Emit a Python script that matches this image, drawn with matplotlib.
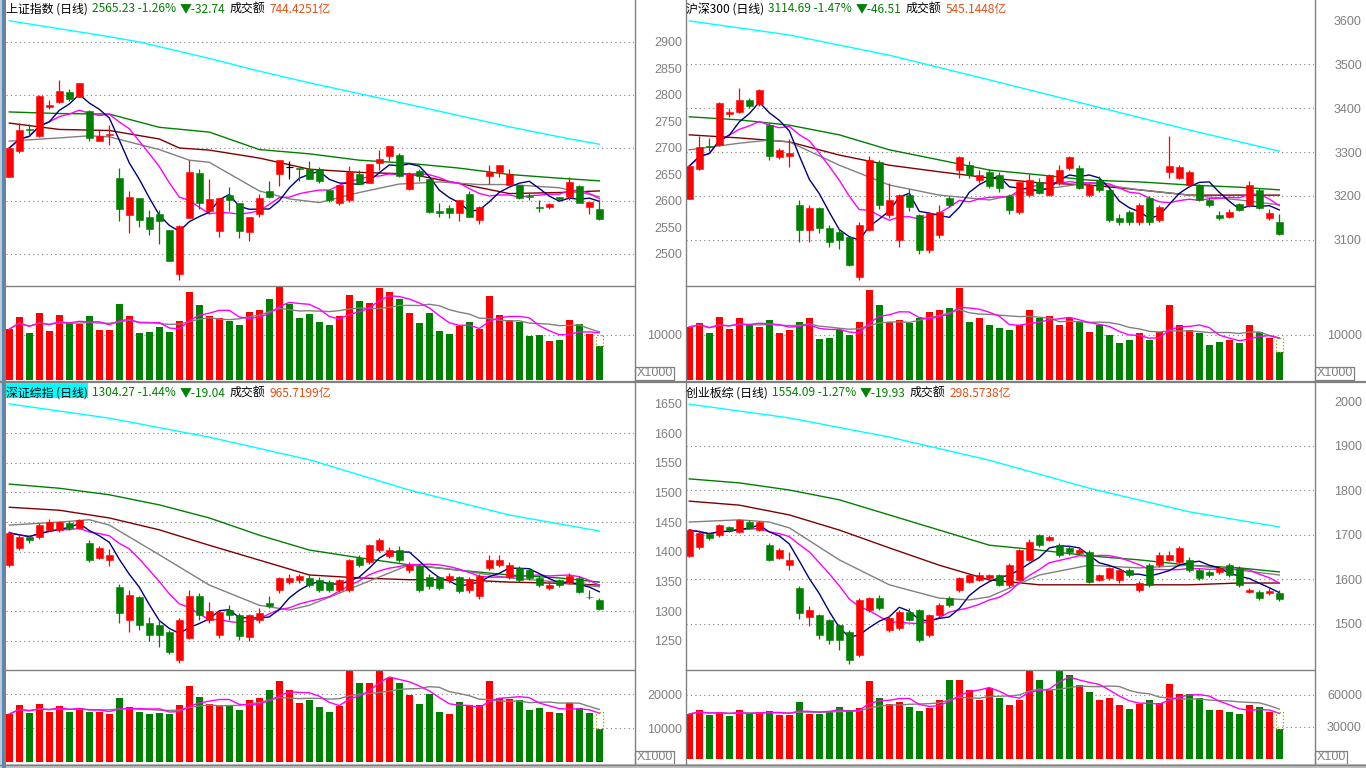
"""
Four-panel daily K-line board (上证 / 沪深300 / 深证综指 / 创业板综).
Saves out.png, 1366x768.
"""
import numpy as np
import pandas as pd
import matplotlib
matplotlib.use('Agg')
import matplotlib.pyplot as plt
from matplotlib.patches import Rectangle
from matplotlib.lines import Line2D

plt.rcParams['font.family'] = ['Noto Sans CJK SC', 'DejaVu Sans']

W, H = 1366, 768
RED = '#ff0000'
GREEN = '#008000'
GREY = '#808080'
ORANGE = '#e65014'

# ---------------- data: (open, high, low, close) per day ----------------
sh_candles = [
    (2646, 2701, 2645, 2700), (2695, 2747, 2690, 2733), (2735, 2745, 2725, 2733), (2723, 2800, 2720, 2799),
    (2777, 2791, 2773, 2782), (2786, 2829, 2784, 2808), (2806, 2812, 2788, 2793), (2797, 2823, 2796, 2823),
    (2769, 2772, 2713, 2718), (2714, 2734, 2713, 2723), (2725, 2744, 2705, 2726), (2644, 2662, 2562, 2584),
    (2574, 2618, 2539, 2608), (2606, 2606, 2550, 2564), (2569, 2583, 2536, 2548), (2575, 2583, 2518, 2563),
    (2546, 2546, 2486, 2487), (2462, 2555, 2450, 2552), (2567, 2677, 2567, 2655), (2653, 2661, 2584, 2596),
    (2582, 2642, 2575, 2604), (2543, 2605, 2533, 2605), (2612, 2627, 2582, 2601), (2596, 2597, 2531, 2543),
    (2541, 2569, 2524, 2569), (2575, 2614, 2569, 2605), (2618, 2638, 2606, 2607), (2650, 2678, 2629, 2678),
    (2665, 2675, 2641, 2665), (2662, 2662, 2637, 2660), (2660, 2676, 2641, 2641), (2661, 2664, 2633, 2637),
    (2621, 2621, 2599, 2601), (2596, 2631, 2592, 2631), (2601, 2666, 2599, 2655), (2650, 2659, 2632, 2632),
    (2633, 2669, 2633, 2669), (2671, 2697, 2658, 2680), (2684, 2704, 2675, 2704), (2686, 2691, 2645, 2647),
    (2622, 2655, 2621, 2651), (2657, 2660, 2637, 2647), (2642, 2642, 2578, 2580), (2582, 2597, 2569, 2577),
    (2587, 2592, 2567, 2577), (2577, 2602, 2563, 2602), (2614, 2618, 2569, 2569), (2565, 2591, 2556, 2589),
    (2648, 2667, 2632, 2655), (2654, 2667, 2646, 2667), (2631, 2661, 2631, 2651), (2631, 2631, 2604, 2606),
    (2609, 2616, 2601, 2607), (2589, 2601, 2579, 2587), (2588, 2597, 2584, 2595), (2608, 2608, 2601, 2603),
    (2608, 2646, 2602, 2635), (2629, 2631, 2596, 2596), (2588, 2599, 2575, 2598), (2584, 2601, 2565, 2565.23),
]
sh_vol = [11300, 14000, 10500, 14900, 10960, 14400, 12600, 12400, 14200, 11100,
          11100, 16900, 14200, 10400, 10700, 11800, 10700, 13100, 19600, 16700,
          14200, 13800, 13100, 12200, 15100, 15600, 18000, 20700, 16900, 13800,
          14700, 12900, 12200, 14200, 18900, 17600, 17100, 20400, 19600, 18000,
          14900, 12700, 14900, 10900, 10200, 12000, 12900, 11300, 18700, 14400,
          13300, 12900, 9800, 10000, 8700, 8900, 13300, 12400, 10200, 7600]
sh_est_vol = 10000
sh_ma_grey = [(0, 2713), (5, 2719), (8, 2723), (10, 2721), (15, 2697), (18, 2677), (20, 2673), (25, 2619),
              (28, 2604), (31, 2597), (35, 2616), (39, 2632), (43, 2636), (47, 2631), (50, 2631), (55, 2625), (59, 2608)]
sh_ma_darkred = [(0, 2747), (5, 2735), (10, 2733), (15, 2717), (17, 2700), (20, 2696), (25, 2681), (30, 2660),
                 (35, 2654), (40, 2651), (45, 2633), (50, 2614), (55, 2616), (59, 2619)]
sh_ma_green = [(0, 2768), (5, 2765), (10, 2764), (15, 2739), (20, 2730), (25, 2697), (30, 2689), (35, 2677),
               (40, 2671), (45, 2662), (50, 2650), (55, 2643), (59, 2638)]
sh_ma_cyan = [(0, 2940), (5, 2925), (10, 2910), (13, 2900), (20, 2869), (25, 2845), (30, 2823), (40, 2782),
              (50, 2740), (55, 2721), (59, 2707)]

hs_candles = [
    (3193, 3270, 3193, 3268), (3261, 3336, 3259, 3311), (3313, 3332, 3302, 3311), (3316, 3413, 3314, 3411),
    (3386, 3400, 3380, 3391), (3391, 3445, 3389, 3418), (3418, 3423, 3400, 3405), (3409, 3443, 3405, 3441),
    (3361, 3365, 3282, 3291), (3289, 3310, 3285, 3305), (3291, 3330, 3265, 3298), (3180, 3190, 3095, 3123),
    (3123, 3180, 3095, 3173), (3173, 3175, 3115, 3127), (3127, 3135, 3085, 3095), (3118, 3125, 3080, 3100),
    (3107, 3110, 3040, 3043), (3016, 3140, 3008, 3134), (3123, 3290, 3120, 3282), (3277, 3282, 3170, 3180),
    (3157, 3230, 3150, 3191), (3100, 3205, 3085, 3202), (3202, 3215, 3165, 3175), (3157, 3160, 3068, 3077),
    (3077, 3163, 3070, 3161), (3111, 3180, 3105, 3164), (3195, 3200, 3175, 3180), (3259, 3292, 3240, 3289),
    (3270, 3280, 3240, 3248), (3236, 3260, 3230, 3248), (3255, 3262, 3218, 3223), (3248, 3255, 3210, 3218),
    (3200, 3205, 3160, 3168), (3164, 3235, 3160, 3232), (3202, 3250, 3198, 3236), (3232, 3240, 3205, 3207),
    (3202, 3250, 3200, 3248), (3232, 3270, 3225, 3259), (3264, 3292, 3260, 3289), (3264, 3270, 3215, 3218),
    (3202, 3230, 3198, 3225), (3236, 3245, 3210, 3214), (3214, 3216, 3140, 3145), (3150, 3160, 3135, 3141),
    (3164, 3168, 3135, 3141), (3141, 3185, 3135, 3180), (3195, 3200, 3135, 3141), (3145, 3180, 3140, 3175),
    (3255, 3336, 3240, 3268), (3241, 3270, 3238, 3266), (3225, 3260, 3220, 3255), (3225, 3228, 3188, 3191),
    (3191, 3195, 3175, 3180), (3157, 3165, 3145, 3150), (3152, 3170, 3150, 3164), (3182, 3185, 3165, 3168),
    (3180, 3235, 3175, 3225), (3214, 3218, 3170, 3173), (3150, 3170, 3145, 3161), (3141, 3160, 3112, 3114.69),
]
hs_vol = [11800, 12700, 10400, 14000, 11300, 13800, 12200, 11800, 13300, 10400,
          11100, 12900, 13800, 9100, 9300, 11100, 10000, 12900, 20000, 16700,
          12900, 13300, 12700, 13800, 15100, 15600, 16000, 20400, 12900, 13800,
          12200, 11600, 11100, 12200, 15600, 13800, 14200, 12200, 13800, 12900,
          10700, 12200, 10000, 8200, 8900, 10400, 8900, 10700, 16700, 12200,
          11100, 10400, 7800, 8400, 8900, 8200, 12200, 10700, 9300, 6200]
hs_est_vol = 9300
hs_ma_grey = [(0, 3305), (5, 3320), (8, 3327), (10, 3323), (15, 3270), (20, 3225), (25, 3202), (30, 3191),
              (35, 3214), (40, 3230), (45, 3214), (50, 3202), (55, 3191), (59, 3180)]
hs_ma_darkred = [(0, 3339), (5, 3332), (10, 3323), (15, 3293), (20, 3270), (25, 3255), (30, 3241), (35, 3230),
                 (40, 3225), (45, 3214), (50, 3202), (55, 3202), (59, 3202)]
hs_ma_green = [(0, 3380), (5, 3373), (10, 3361), (15, 3339), (20, 3305), (25, 3282), (30, 3259), (35, 3248),
               (40, 3236), (45, 3232), (50, 3225), (55, 3220), (59, 3214)]
hs_ma_cyan = [(0, 3598), (10, 3566), (20, 3520), (30, 3464), (40, 3407), (50, 3350), (59, 3302)]

sz_candles = [
    (1378, 1435, 1375, 1432), (1406, 1430, 1403, 1425), (1425, 1428, 1415, 1420), (1425, 1448, 1422, 1445),
    (1437, 1455, 1435, 1450), (1437, 1452, 1433, 1450), (1448, 1452, 1437, 1440), (1440, 1455, 1438, 1453),
    (1415, 1420, 1383, 1386), (1390, 1410, 1388, 1406), (1386, 1405, 1376, 1395), (1341, 1345, 1280, 1297),
    (1285, 1335, 1265, 1327), (1324, 1326, 1268, 1277), (1280, 1290, 1250, 1260), (1277, 1285, 1240, 1260),
    (1265, 1268, 1228, 1231), (1218, 1288, 1212, 1285), (1255, 1335, 1253, 1326), (1326, 1330, 1285, 1294),
    (1285, 1315, 1280, 1300), (1260, 1300, 1255, 1299), (1302, 1310, 1285, 1294), (1294, 1297, 1252, 1258),
    (1257, 1296, 1250, 1294), (1285, 1305, 1280, 1297), (1314, 1325, 1305, 1309), (1336, 1358, 1330, 1356),
    (1349, 1362, 1345, 1356), (1352, 1362, 1348, 1359), (1356, 1362, 1340, 1344), (1352, 1358, 1332, 1336),
    (1349, 1352, 1333, 1336), (1336, 1355, 1333, 1352), (1336, 1388, 1333, 1386), (1390, 1395, 1375, 1378),
    (1383, 1413, 1380, 1411), (1403, 1423, 1400, 1420), (1393, 1408, 1390, 1403), (1403, 1410, 1383, 1386),
    (1369, 1383, 1365, 1378), (1376, 1380, 1333, 1336), (1357, 1362, 1338, 1342), (1357, 1360, 1335, 1339),
    (1352, 1365, 1348, 1359), (1357, 1360, 1330, 1334), (1336, 1357, 1330, 1354), (1325, 1362, 1320, 1359),
    (1373, 1395, 1370, 1386), (1378, 1395, 1375, 1386), (1358, 1383, 1355, 1378), (1373, 1376, 1350, 1352),
    (1369, 1372, 1352, 1356), (1356, 1360, 1340, 1344), (1339, 1348, 1336, 1344), (1352, 1355, 1340, 1344),
    (1349, 1365, 1345, 1359), (1356, 1360, 1330, 1333), (1324, 1335, 1320, 1323.31), (1319, 1322, 1302, 1304.27),
]
sz_vol = [14100, 16800, 14400, 17100, 14700, 16500, 14700, 15900, 14700, 14700,
          14100, 18800, 16200, 14700, 14100, 14400, 14100, 16800, 22400, 19100,
          17100, 16500, 16800, 15300, 18200, 18800, 21200, 23800, 21200, 17400,
          18200, 16200, 14700, 16500, 26800, 23200, 23200, 27100, 24700, 23200,
          19700, 17100, 20000, 14700, 14100, 17600, 16800, 16800, 23800, 18800,
          18500, 18200, 15300, 15900, 14700, 14400, 17400, 15900, 14400, 9700]
sz_est_vol = 14700
sz_ma_grey = [(0, 1445), (5, 1450), (8, 1454), (10, 1445), (15, 1395), (20, 1344), (25, 1310), (28, 1302),
              (30, 1310), (35, 1344), (40, 1378), (45, 1369), (50, 1356), (55, 1349), (59, 1341)]
sz_ma_darkred = [(0, 1475), (5, 1470), (10, 1457), (15, 1437), (20, 1411), (25, 1386), (30, 1361), (35, 1356),
                 (40, 1353), (45, 1353), (50, 1349), (55, 1347), (59, 1344)]
sz_ma_green = [(0, 1514), (5, 1507), (10, 1496), (15, 1479), (20, 1457), (25, 1428), (30, 1403), (35, 1390),
               (40, 1378), (45, 1369), (50, 1361), (55, 1356), (59, 1349)]
sz_ma_cyan = [(0, 1649), (10, 1625), (20, 1593), (30, 1555), (40, 1504), (50, 1462), (59, 1435)]

cy_candles = [
    (1652, 1712, 1650, 1710), (1672, 1710, 1668, 1703), (1701, 1705, 1688, 1692), (1699, 1724, 1695, 1721),
    (1717, 1720, 1705, 1710), (1706, 1735, 1703, 1733), (1728, 1732, 1712, 1715), (1710, 1730, 1708, 1728),
    (1676, 1680, 1640, 1643), (1647, 1670, 1645, 1665), (1631, 1660, 1620, 1643), (1580, 1585, 1510, 1524),
    (1515, 1540, 1495, 1530), (1519, 1522, 1465, 1474), (1508, 1510, 1455, 1463), (1497, 1500, 1440, 1463),
    (1481, 1485, 1410, 1418), (1429, 1558, 1425, 1553), (1530, 1560, 1525, 1557), (1557, 1565, 1530, 1535),
    (1485, 1520, 1480, 1512), (1490, 1530, 1485, 1526), (1526, 1535, 1505, 1508), (1530, 1532, 1458, 1463),
    (1474, 1522, 1470, 1519), (1519, 1545, 1515, 1542), (1557, 1562, 1538, 1542), (1575, 1605, 1570, 1602),
    (1593, 1612, 1590, 1609), (1598, 1615, 1595, 1609), (1602, 1612, 1598, 1609), (1609, 1612, 1585, 1587),
    (1587, 1635, 1583, 1631), (1598, 1668, 1595, 1665), (1643, 1690, 1640, 1683), (1699, 1702, 1672, 1676),
    (1688, 1698, 1685, 1694), (1676, 1680, 1650, 1654), (1670, 1675, 1655, 1661), (1658, 1670, 1655, 1665),
    (1661, 1665, 1590, 1593), (1598, 1612, 1595, 1609), (1602, 1628, 1598, 1625), (1598, 1625, 1590, 1620),
    (1620, 1625, 1605, 1609), (1575, 1595, 1570, 1591), (1631, 1635, 1583, 1587), (1631, 1660, 1628, 1654),
    (1643, 1662, 1640, 1654), (1638, 1675, 1635, 1670), (1643, 1650, 1615, 1620), (1620, 1625, 1598, 1602),
    (1616, 1620, 1605, 1609), (1616, 1628, 1612, 1625), (1631, 1635, 1605, 1609), (1625, 1630, 1583, 1587),
    (1571, 1580, 1568, 1575), (1571, 1575, 1553, 1557), (1569, 1580, 1565, 1574), (1569, 1575, 1550, 1554.09),
]
cy_vol = [42200, 45900, 41250, 44100, 40300, 45900, 42200, 44100, 45000, 41250,
          41250, 53400, 42200, 42200, 44100, 48750, 45900, 47800, 73100, 57200,
          51600, 53400, 48750, 45000, 47800, 55300, 74100, 74100, 64700, 55300,
          66600, 57200, 50600, 55300, 83400, 74100, 64700, 83400, 78750, 69400,
          62800, 55300, 57200, 50600, 46900, 51600, 55300, 52500, 70300, 60900,
          60900, 57200, 45900, 45900, 44100, 42200, 50600, 48750, 44100, 28100]
cy_est_vol = 44000
cy_ma_grey = [(0, 1728), (5, 1733), (8, 1728), (10, 1715), (15, 1643), (20, 1587), (25, 1557), (28, 1553),
              (30, 1560), (35, 1609), (40, 1631), (45, 1625), (50, 1631), (55, 1620), (59, 1609)]
cy_ma_darkred = [(0, 1775), (5, 1766), (10, 1744), (15, 1710), (20, 1670), (25, 1631), (30, 1598), (35, 1587),
                 (40, 1587), (45, 1587), (50, 1587), (55, 1591), (59, 1591)]
cy_ma_green = [(0, 1825), (5, 1816), (10, 1800), (15, 1778), (20, 1744), (25, 1710), (30, 1676), (35, 1665),
               (40, 1652), (45, 1643), (50, 1631), (55, 1625), (59, 1616)]
cy_ma_cyan = [(0, 1993), (10, 1962), (20, 1919), (30, 1867), (40, 1804), (50, 1751), (59, 1717)]

titles = [
    [("上证指数 (日线)", 'black'), ("2565.23 -1.26%", GREEN), ("▼-32.74", GREEN), ("成交额", 'black'), ("744.4251亿", ORANGE)],
    [("沪深300 (日线)", 'black'), ("3114.69 -1.47%", GREEN), ("▼-46.51", GREEN), ("成交额", 'black'), ("545.1448亿", ORANGE)],
    [("深证综指 (日线)", 'black'), ("1304.27 -1.44%", GREEN), ("▼-19.04", GREEN), ("成交额", 'black'), ("965.7199亿", ORANGE)],
    [("创业板综 (日线)", 'black'), ("1554.09 -1.27%", GREEN), ("▼-19.93", GREEN), ("成交额", 'black'), ("298.5738亿", ORANGE)],
]

panels = [
    dict(candles=sh_candles, vol=sh_vol, est=sh_est_vol,
         mas=[(sh_ma_cyan, '#00ffff'), (sh_ma_green, GREEN), (sh_ma_darkred, '#800000'), (sh_ma_grey, GREY)],
         x0=6, x1=634, top=0, mid=285, bot=380, ylim=(2441.5, 2979.2), vylim=(0, 21111),
         ticks=list(range(2500, 2901, 50)), grid=list(range(2500, 2901, 100)),
         vticks=[10000], unit='X1000', unit_w=39, title=titles[0], hl=False),
    dict(candles=hs_candles, vol=hs_vol, est=hs_est_vol,
         mas=[(hs_ma_cyan, '#00ffff'), (hs_ma_green, GREEN), (hs_ma_darkred, '#800000'), (hs_ma_grey, GREY)],
         x0=686, x1=1314, top=0, mid=285, bot=380, ylim=(2997.7, 3645.5), vylim=(0, 21111),
         ticks=list(range(3100, 3601, 100)), grid=list(range(3100, 3501, 100)),
         vticks=[10000], unit='X1000', unit_w=39, title=titles[1], hl=False),
    dict(candles=sz_candles, vol=sz_vol, est=sz_est_vol,
         mas=[(sz_ma_cyan, '#00ffff'), (sz_ma_green, GREEN), (sz_ma_darkred, '#800000'), (sz_ma_grey, GREY)],
         x0=6, x1=634, top=384, mid=669, bot=764, ylim=(1202.7, 1682.5), vylim=(-588, 27353),
         ticks=list(range(1250, 1651, 50)), grid=list(range(1250, 1601, 50)),
         vticks=[10000, 20000], unit='X1000', unit_w=39, title=titles[2], hl=True),
    dict(candles=cy_candles, vol=cy_vol, est=cy_est_vol,
         mas=[(cy_ma_cyan, '#00ffff'), (cy_ma_green, GREEN), (cy_ma_darkred, '#800000'), (cy_ma_grey, GREY)],
         x0=686, x1=1314, top=384, mid=669, bot=764, ylim=(1397.8, 2038.2), vylim=(-4688, 84375),
         ticks=list(range(1500, 2001, 100)), grid=list(range(1500, 1901, 100)),
         vticks=[30000, 60000], unit='X100', unit_w=32, title=titles[3], hl=False),
]

fig = plt.figure(figsize=(W / 100, H / 100), dpi=100)
fig.patch.set_facecolor('white')


def px_axes(x0, y0, x1, y1):
    return fig.add_axes([x0 / W, 1 - y1 / H, (x1 - x0) / W, (y1 - y0) / H])


def fig_line(xs, ys, color=GREY, lw=1.0):
    fig.add_artist(Line2D([x / W for x in xs], [1 - y / H for y in ys], color=color, lw=lw))


def setup(ax, ylim, ticks, grid):
    ax.set_xlim(-0.33, 62.47)
    ax.set_ylim(*ylim)
    for s in ax.spines.values():
        s.set_visible(False)
    ax.set_xticks([])
    ax.set_yticks(ticks)
    ax.set_yticklabels([str(t) for t in ticks])
    ax.yaxis.tick_right()
    ax.tick_params(axis='y', length=0, pad=34.5, labelsize=9, labelcolor=GREY)
    for lab in ax.get_yticklabels():
        lab.set_ha('right')
        lab.set_family('Liberation Sans')
    for g in grid:
        ax.axhline(g, color=GREY, lw=0.8, ls=(0, (1, 3)), zorder=0)
    ax.patch.set_alpha(0)


def draw_candles(ax, candles):
    for i, (o, h, l, c) in enumerate(candles):
        col = RED if c > o else (GREEN if c < o else 'black')
        ax.vlines(i, l, h, color=col, lw=0.9, zorder=3)
        if c == o:
            ax.hlines(o, i - 0.33, i + 0.33, color=col, lw=0.9, zorder=3)
        else:
            ax.add_patch(Rectangle((i - 0.33, min(o, c)), 0.66, abs(c - o),
                                   facecolor=col, edgecolor=col, lw=0.4, zorder=3))


for p in panels:
    candles = p['candles']
    close = pd.Series([c[3] for c in candles])
    colors = [RED if c[3] > c[0] else GREEN for c in candles]
    idx = np.arange(len(candles))

    ax = px_axes(p['x0'], p['top'], p['x1'], p['mid'])
    setup(ax, p['ylim'], p['ticks'], p['grid'])
    for pts, col in p['mas']:
        ax.plot([q[0] for q in pts], [q[1] for q in pts], color=col, lw=1.0, zorder=2)
    ax.plot(idx, close.rolling(10, min_periods=1).mean(), color='#ff00ff', lw=1.0, zorder=2)
    ax.plot(idx, close.rolling(5, min_periods=1).mean(), color='#000080', lw=1.0, zorder=2)
    draw_candles(ax, candles)

    vax = px_axes(p['x0'], p['mid'], p['x1'], p['bot'])
    setup(vax, p['vylim'], p['vticks'], p['vticks'])
    vol = pd.Series(p['vol'])
    vax.bar(idx, vol, width=0.66, color=colors, zorder=2)
    vax.plot(idx, vol.rolling(10, min_periods=1).mean(), color=GREY, lw=1.0, zorder=3)
    vax.plot(idx, vol.rolling(5, min_periods=1).mean(), color='#ff00ff', lw=1.0, zorder=3)
    last = len(vol) - 1
    vax.add_patch(Rectangle((last - 0.33, vol[last]), 0.66, p['est'] - vol[last], fill=False,
                            edgecolor='#a0a000', ls=':', lw=0.9, zorder=4))

    # unit box under the axis column
    ux = p['x1'] + 1
    fig.add_artist(Rectangle((ux / W, 1 - p['bot'] / H), p['unit_w'] / W, 13 / H, fill=False,
                             edgecolor=GREY, lw=0.9, transform=fig.transFigure))
    fig.text((ux + 2) / W, 1 - (p['bot'] - 6.5) / H, p['unit'], color=GREY, fontsize=9,
             family='Liberation Sans', va='center', ha='left')

    # divider between price and volume (chart area only)
    fig_line([p['x0'], p['x1']], [p['mid'] + 0.5, p['mid'] + 0.5])

# frame lines
for x in (634.5, 686, 1314.5):
    fig_line([x, x], [0, 764])
fig_line([0, W], [381.5, 381.5], lw=1.6)
fig.add_artist(Rectangle((0, 0), 1, 4 / H, facecolor='#c0c0c0', edgecolor='none', transform=fig.transFigure))
fig_line([0, W], [764.5, 764.5])
fig.add_artist(Rectangle((0, 0), 2 / W, 1, facecolor='#c8c8c8', edgecolor='none', transform=fig.transFigure))
fig.add_artist(Rectangle((2 / W, 0), 2 / W, 1, facecolor='#3c8ddc', edgecolor='none', transform=fig.transFigure))
fig.add_artist(Rectangle((4 / W, 0), 1.5 / W, 1, facecolor=GREY, edgecolor='none', transform=fig.transFigure))

# titles, drawn piece by piece
renderer = fig.canvas.get_renderer()
for p in panels:
    x = p['x0']
    y = p['top'] + 12.5
    for k, (s, col) in enumerate(p['title']):
        t = fig.text(x / W, 1 - y / H, s, color=col, fontsize=8.6, va='baseline', ha='left', zorder=10)
        w = t.get_window_extent(renderer).width
        if k == 0 and p['hl']:
            fig.add_artist(Rectangle((x / W, 1 - (p['top'] + 14) / H), w / W, 15 / H,
                                     facecolor='#00ffff', edgecolor='none', transform=fig.transFigure, zorder=9))
        x += w + 4

fig.savefig('out.png', dpi=100)
